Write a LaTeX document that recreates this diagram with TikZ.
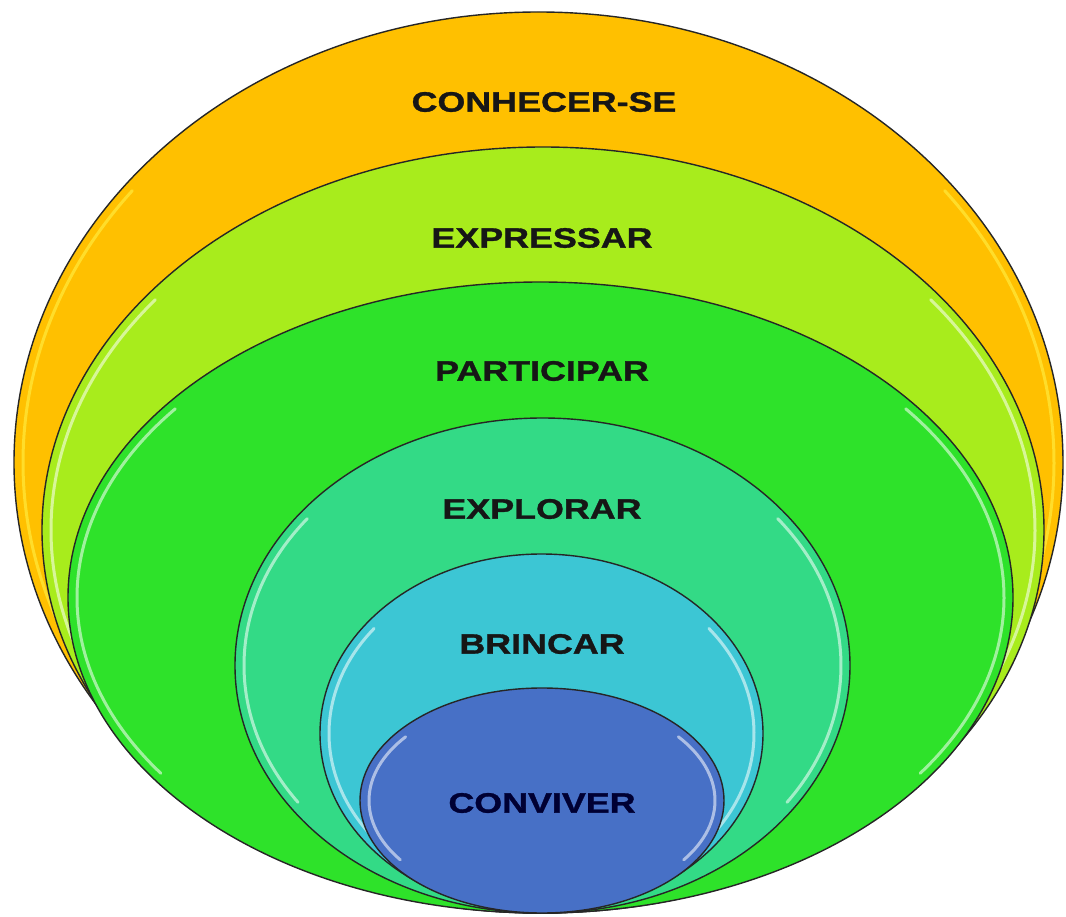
\documentclass[tikz,border=0pt]{standalone}
\usepackage{fontspec}
\newfontfamily\lblfont[FakeStretch=1.28,FakeBold=1.2]{Liberation Sans Bold}
\definecolor{cOrange}{HTML}{FFC000}
\definecolor{cLime}{HTML}{A8EC1C}
\definecolor{cGreen}{HTML}{2EE22A}
\definecolor{cMint}{HTML}{33DA86}
\definecolor{cCyan}{HTML}{3CC6D4}
\definecolor{cBlue}{HTML}{4770C6}
\definecolor{txt}{HTML}{161616}
\tikzset{
  ring/.style={draw=black!85, line width=1.4pt},
  sheen/.style={line width=3pt, line cap=round, opacity=0.55},
  lbl/.style={font=\lblfont\fontsize{28}{30}\selectfont, text=txt, inner sep=0pt, anchor=center}
}
% \ring{cx}{cy}{rx}{ry}{fill}{sheen colour}
\newcommand{\ringshape}[6]{%
  \fill[#5] (#1,#2) ellipse [x radius=#3, y radius=#4];
  \draw[sheen, draw=#6] ($(#1,#2)+(145:{#3-9} and {#4-9})$) arc[start angle=145, end angle=218, x radius={#3-9}, y radius={#4-9}];
  \draw[sheen, draw=#6] ($(#1,#2)+(-38:{#3-9} and {#4-9})$) arc[start angle=-38, end angle=35, x radius={#3-9}, y radius={#4-9}];
  \draw[ring] (#1,#2) ellipse [x radius=#3, y radius=#4];
}
\usetikzlibrary{calc}
\begin{document}
\begin{tikzpicture}[x=1pt, y=-1pt]
  \useasboundingbox[fill=white] (0,0) rectangle (1066,917);

  % nested rings, all touching at the bottom
  \ringshape{538.5}{462.5}{524.5}{450.5}{cOrange}{yellow!70!white}
  \ringshape{543}{530}{501}{383}{cLime}{white}
  \ringshape{540.5}{597.5}{472.5}{315.5}{cGreen}{white}
  \ringshape{542.5}{665.5}{307.5}{247.5}{cMint}{white}
  \ringshape{541.5}{733.5}{221.5}{179.5}{cCyan}{white}
  \ringshape{542}{800.5}{182}{112.5}{cBlue}{white}

  % labels
  \node[lbl] (conhecer) at (544,102) {CONHECER-SE};
  \node[lbl] (expressar) at (542,238) {EXPRESSAR};
  \node[lbl] (participar) at (542,371) {PARTICIPAR};
  \node[lbl] (explorar) at (542,509) {EXPLORAR};
  \node[lbl] (brincar) at (542,644) {BRINCAR};
  \node[lbl, text=black!80!blue] (conviver) at (542,803) {CONVIVER};
\end{tikzpicture}
\end{document}
